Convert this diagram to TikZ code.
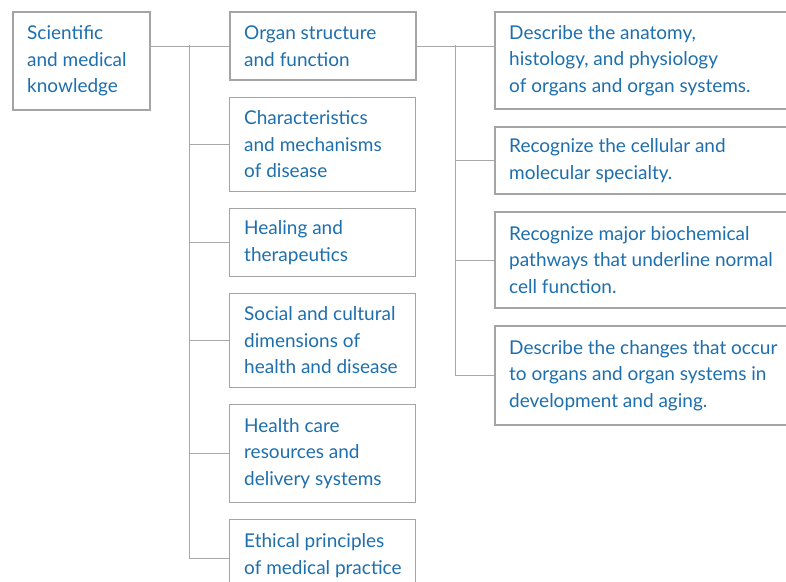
\documentclass[tikz,border=0pt]{standalone}
\usepackage{fontspec}
\setmainfont{Lato}
\definecolor{framegray}{HTML}{A4A4A4}
\definecolor{linkgray}{HTML}{A8A8A8}
\definecolor{inkblue}{HTML}{1D6FAE}
\begin{document}
\begin{tikzpicture}[x=1pt,y=-1pt,
  box/.style={draw=framegray, line width=1pt, anchor=north west,
    inner sep=0pt, minimum width=186pt},
  strong/.style={line width=2pt},
  wide/.style={minimum width=330pt},
  txt/.style={anchor=west, align=left, text=inkblue, inner sep=0pt,
    xshift=15pt, font=\fontsize{19}{26.5}\selectfont},
  link/.style={draw=linkgray, line width=1pt}]
\useasboundingbox (0,0) rectangle (786,581);
\clip (0,0) rectangle (786,581);
\fill[white] (0,0) rectangle (786,581);

% root
\node[box, strong, minimum width=137pt, minimum height=98pt] (root) at (12,11) {};
\node[txt] (rootT) at (root.west) {Scientific\\and medical\\knowledge};

% middle column
\node[box, strong, minimum height=68pt] (organ) at (229,11) {};
\node[txt] (organT) at (organ.west) {Organ structure\\and function};
\node[box, minimum height=94pt] (mech) at (229,97) {};
\node[txt] (mechT) at (mech.west) {Characteristics\\and mechanisms\\of disease};
\node[box, minimum height=68pt] (heal) at (229,208) {};
\node[txt] (healT) at (heal.west) {Healing and\\therapeutics};
\node[box, minimum height=94pt] (social) at (229,293) {};
\node[txt] (socialT) at (social.west) {Social and cultural\\dimensions of\\health and disease};
\node[box, minimum height=98pt] (care) at (229,404) {};
\node[txt] (careT) at (care.west) {Health care\\resources and\\delivery systems};
\node[box, minimum height=72pt] (ethics) at (229,519) {};
\node[txt] (ethicsT) at (ethics.west) {Ethical principles\\of medical practice};

% right column
\node[box, strong, wide, minimum height=97pt] (anat) at (494,11) {};
\node[txt] (anatT) at (anat.west) {Describe the anatomy,\\histology, and physiology\\of organs and organ systems.};
\node[box, strong, wide, minimum height=67pt] (cell) at (494,126) {};
\node[txt] (cellT) at (cell.west) {Recognize the cellular and\\molecular specialty.};
\node[box, strong, wide, minimum height=96pt] (bio) at (494,211) {};
\node[txt] (bioT) at (bio.west) {Recognize major biochemical\\pathways that underline normal\\cell function.};
\node[box, strong, wide, minimum height=99pt] (dev) at (494,325) {};
\node[txt] (devT) at (dev.west) {Describe the changes that occur\\to organs and organ systems in\\development and aging.};

% left tree
\coordinate (ltrunk) at (189,45);
\draw[link] (root.east |- organ.west) -- (organ.west);
\draw[link] (ltrunk) |- ([yshift=-3pt]ethics.west);
\foreach \n in {mech,heal,social,care}
  \draw[link] (ltrunk |- \n.west) -- (\n.west);

% right tree
\coordinate (rtrunk) at (455,45);
\draw[link] (organ.east) -- (organ.east -| anat.west);
\draw[link] (rtrunk) |- (dev.west);
\foreach \n in {cell,bio}
  \draw[link] (rtrunk |- \n.west) -- (\n.west);
\end{tikzpicture}
\end{document}
